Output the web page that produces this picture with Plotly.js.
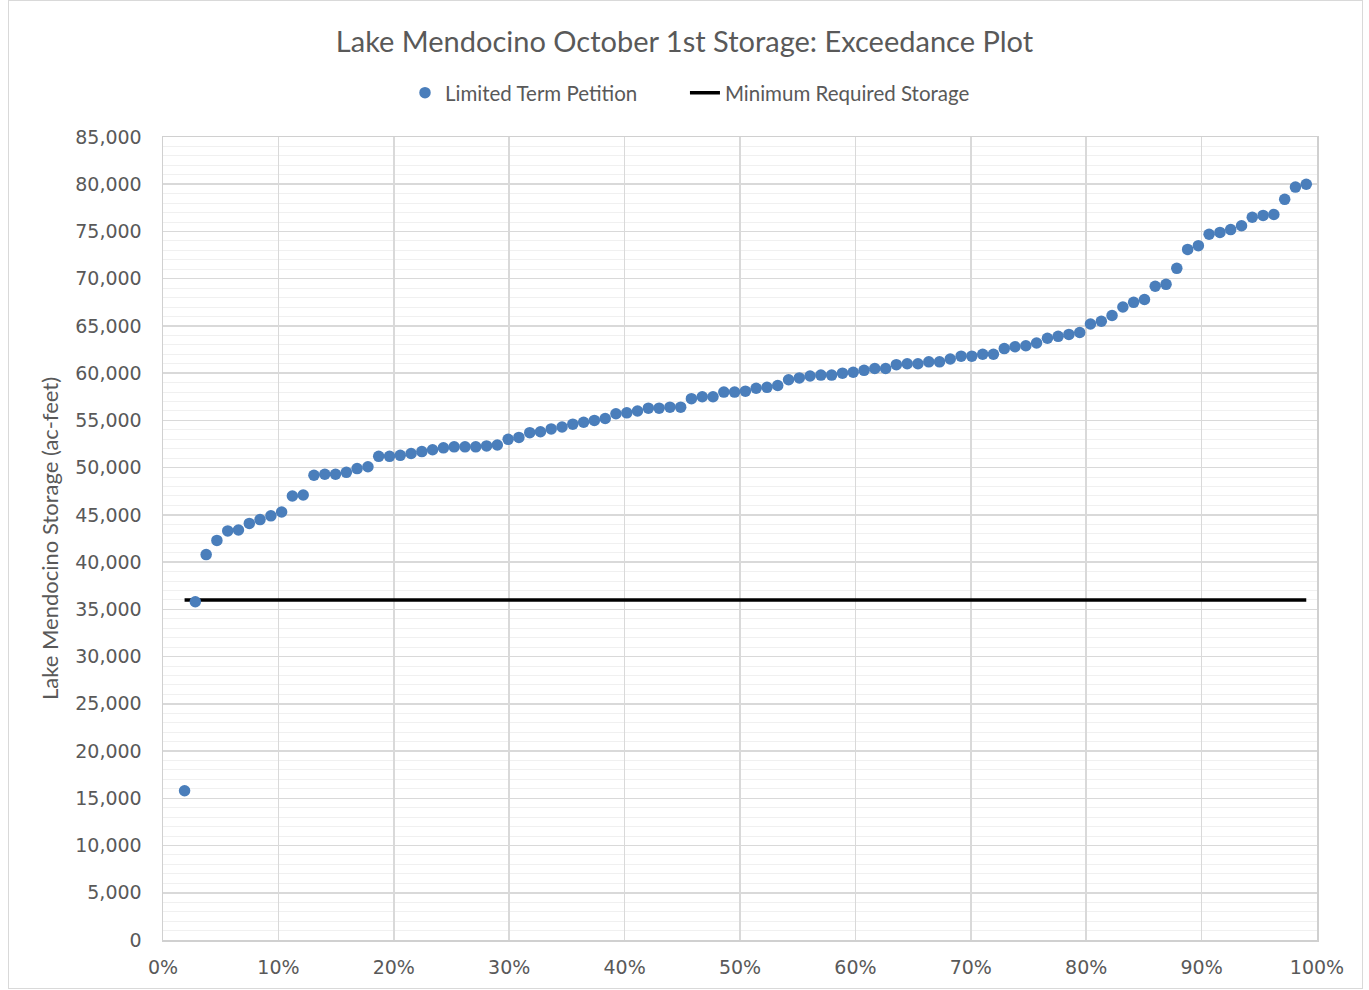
<!DOCTYPE html>
<html>
<head>
<meta charset="utf-8">
<script src="https://cdn.plot.ly/plotly-3.0.1.min.js"></script>
<style>
  html, body { margin: 0; padding: 0; background: #ffffff; }
  #chart { position: absolute; left: 0; top: 0; width: 1369px; height: 990px; }
  #frame { position: absolute; left: 8px; top: 0px; width: 1353px; height: 987px;
           border: 1px solid #d9d9d9; pointer-events: none; }
</style>
</head>
<body>
<div id="chart"></div>
<div id="frame"></div>
<script>
// Exceedance probability (fraction) of each ranked year
const exceedance = [
  0.0187, 0.0280, 0.0374, 0.0467, 0.0561, 0.0654, 0.0748, 0.0841, 0.0935, 0.1028,
  0.1121, 0.1215, 0.1308, 0.1402, 0.1495, 0.1589, 0.1682, 0.1776, 0.1869, 0.1963,
  0.2056, 0.2150, 0.2243, 0.2336, 0.2430, 0.2523, 0.2617, 0.2710, 0.2804, 0.2897,
  0.2991, 0.3084, 0.3178, 0.3271, 0.3364, 0.3458, 0.3551, 0.3645, 0.3738, 0.3832,
  0.3925, 0.4019, 0.4112, 0.4206, 0.4299, 0.4393, 0.4486, 0.4579, 0.4673, 0.4766,
  0.4860, 0.4953, 0.5047, 0.5140, 0.5234, 0.5327, 0.5421, 0.5514, 0.5607, 0.5701,
  0.5794, 0.5888, 0.5981, 0.6075, 0.6168, 0.6262, 0.6355, 0.6449, 0.6542, 0.6636,
  0.6729, 0.6822, 0.6916, 0.7009, 0.7103, 0.7196, 0.7290, 0.7383, 0.7477, 0.7570,
  0.7664, 0.7757, 0.7850, 0.7944, 0.8037, 0.8131, 0.8224, 0.8318, 0.8411, 0.8505,
  0.8598, 0.8692, 0.8785, 0.8879, 0.8972, 0.9065, 0.9159, 0.9252, 0.9346, 0.9439,
  0.9533, 0.9626, 0.9720, 0.9813, 0.9907
];

// October 1st storage (ac-feet), Limited Term Petition
const storage = [
  15800, 35800, 40800, 42300, 43300, 43400, 44100, 44500, 44900, 45300,
  47000, 47100, 49200, 49300, 49300, 49500, 49900, 50100, 51200, 51200,
  51300, 51500, 51700, 51900, 52100, 52200, 52200, 52200, 52300, 52400,
  53000, 53200, 53700, 53800, 54100, 54300, 54600, 54800, 55000, 55200,
  55700, 55800, 56000, 56300, 56300, 56400, 56400, 57300, 57500, 57500,
  58000, 58000, 58100, 58400, 58500, 58700, 59300, 59500, 59700, 59800,
  59800, 60000, 60100, 60300, 60500, 60500, 60900, 61000, 61000, 61200,
  61200, 61500, 61800, 61800, 62000, 62000, 62600, 62800, 62900, 63200,
  63700, 63900, 64100, 64300, 65200, 65500, 66100, 67000, 67500, 67800,
  69200, 69400, 71100, 73100, 73500, 74700, 74900, 75200, 75600, 76500,
  76700, 76800, 78400, 79700, 80000
];

// Minimum required storage line
const minX = [0.0187, 0.9907];
const minY = [36000, 36000];

const seriesNames = ["Limited Term Petition", "Minimum Required Storage"];
const titleText = "Lake Mendocino October 1st Storage: Exceedance Plot";
const yTitle = "Lake Mendocino Storage (ac-feet)";

const xTicks = [0, 0.1, 0.2, 0.3, 0.4, 0.5, 0.6, 0.7, 0.8, 0.9, 1.0];
const yTicks = [0, 5000, 10000, 15000, 20000, 25000, 30000, 35000, 40000,
                45000, 50000, 55000, 60000, 65000, 70000, 75000, 80000, 85000];

const textFont = "Lato, 'Open Sans', sans-serif";
const tickFont = "'DejaVu Sans', Verdana, sans-serif";
const grey = "#595959";

const traces = [
  {
    x: minX, y: minY, name: seriesNames[1], type: "scatter", mode: "lines",
    line: { color: "#000000", width: 3.5 }, hoverinfo: "skip", legend: "legend2"
  },
  {
    x: exceedance, y: storage, name: seriesNames[0], type: "scatter", mode: "markers",
    marker: { color: "#4a7ebb", size: 11.5 }, legend: "legend"
  }
];

const legendFont = { family: textFont, size: 20.5, color: grey };

const layout = {
  width: 1369, height: 990,
  margin: { l: 163, r: 52, t: 137, b: 50 },
  paper_bgcolor: "#ffffff", plot_bgcolor: "#ffffff",
  title: {
    text: titleText, x: 0.5, xanchor: "center", xref: "container",
    y: 1 - 42 / 990, yref: "container", yanchor: "middle",
    font: { family: textFont, size: 29, color: grey }
  },
  showlegend: true,
  legend: {
    orientation: "h", x: 0.2097, xanchor: "left",
    y: 1.055, yanchor: "middle",
    font: legendFont, itemwidth: 30
  },
  legend2: {
    orientation: "h", x: 0.4523, xanchor: "left",
    y: 1.055, yanchor: "middle",
    font: legendFont, itemwidth: 30
  },
  xaxis: {
    range: [0, 1], tickvals: xTicks, tickformat: ".0%",
    showgrid: true, gridcolor: "#d9d9d9", gridwidth: 1.5,
    showline: true, linecolor: "#d0d0d0", linewidth: 1.5, mirror: true,
    zeroline: false, ticks: "",
    tickfont: { family: tickFont, size: 19, color: grey },
    ticklabelstandoff: 10
  },
  yaxis: {
    range: [0, 85000], tickvals: yTicks, tickformat: ",d",
    showgrid: true, gridcolor: "#d9d9d9", gridwidth: 1.5,
    minor: { dtick: 1000, showgrid: true, gridcolor: "#f0f0f0", gridwidth: 1 },
    showline: true, linecolor: "#d0d0d0", linewidth: 1.5, mirror: true,
    zeroline: false, ticks: "",
    tickfont: { family: tickFont, size: 19, color: grey },
    ticklabelstandoff: 16,
    title: { text: yTitle, standoff: 10, font: { family: textFont, size: 22, color: grey } }
  }
};

Plotly.newPlot("chart", traces, layout, { displayModeBar: false, staticPlot: true });
</script>
</body>
</html>
